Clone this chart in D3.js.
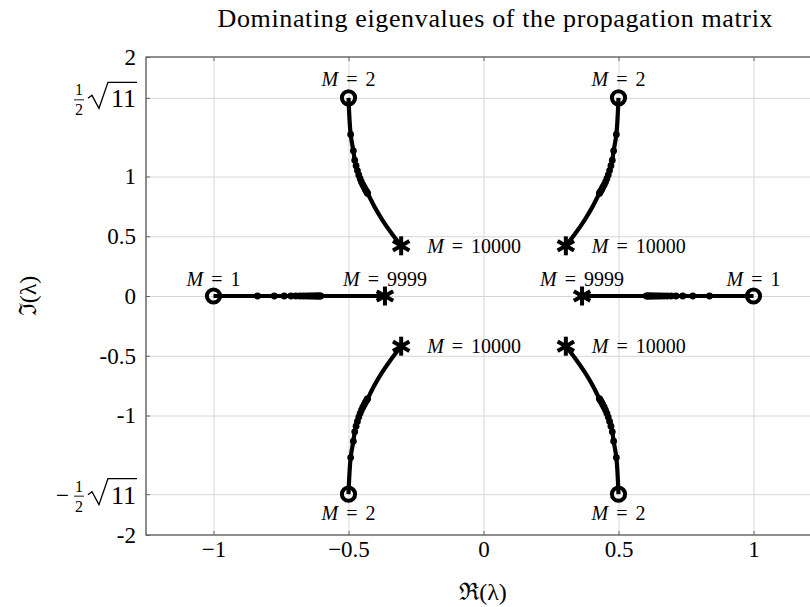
<!DOCTYPE html>
<html>
<head>
<meta charset="utf-8">
<script src="https://cdn.jsdelivr.net/npm/d3@7"></script>
<style>
  body { margin: 0; background: #fff; }
  text { font-family: "Liberation Serif", serif; fill: #000; }
</style>
</head>
<body>
<svg id="chart"></svg>
<script>
const xTicks = [-1, -0.5, 0, 0.5, 1]
const xTickLabels = ['−1', '−0.5', '0', '0.5', '1']
const yTicks = [-2, -Math.sqrt(11) / 2, -1, -0.5, 0, 0.5, 1, Math.sqrt(11) / 2, 2]
const yTickLabels = ['-2', 'sqrt-', '-1', '-0.5', '0', '0.5', '1', 'sqrt+', '2']

// complex branch, one quadrant (M = 2, 3, ...), mirrored to the other three
const complexRe = [0.5, 0.492, 0.482, 0.477, 0.472, 0.467, 0.462, 0.457, 0.452, 0.447, 0.442, 0.438, 0.434, 0.431, 0.429]
const complexIm = [1.658, 1.352, 1.215, 1.137, 1.09, 1.05, 1.013, 0.982, 0.955, 0.93, 0.91, 0.892, 0.877, 0.866, 0.858]
// unmarked part of the curve, ending at M = 10000
const complexTailRe = [0.404, 0.375, 0.342, 0.305]
const complexTailIm = [0.748, 0.638, 0.529, 0.42]
// real branch (M = 1, 2, ...), mirrored left/right
const realRe = [1, 0.837, 0.775, 0.738, 0.713, 0.695, 0.68, 0.668, 0.657, 0.648, 0.64, 0.633, 0.627, 0.621, 0.616, 0.611, 0.607, 0.603]
const realEnd = 0.365              // M = 9999
const quadrants = [[-1, 1], [1, 1], [-1, -1], [1, -1]]
const sides = [-1, 1]

const W = 810, H = 607
const pLeft = 146, pRight = 821, pTop = 57, pBottom = 535

const svg = d3.select('#chart').attr('width', W).attr('height', H)

const x = d3.scaleLinear().domain([-1.25, 1.25]).range([pLeft, pRight])
const y = d3.scaleLinear().domain([-2, 2]).range([pBottom, pTop])

// grid
const grid = svg.append('g')
grid.append('g')
  .attr('transform', `translate(0,${pBottom})`)
  .call(d3.axisBottom(x).tickValues(xTicks).tickSize(-(pBottom - pTop)).tickFormat(''))
grid.append('g')
  .attr('transform', `translate(${pLeft},0)`)
  .call(d3.axisLeft(y).tickValues(yTicks.slice(1, -1)).tickSize(-(pRight - pLeft)).tickFormat(''))
grid.selectAll('.domain').remove()
grid.selectAll('line').attr('stroke', '#d6d6d6').attr('stroke-width', 1)

// frame
svg.append('rect')
  .attr('x', pLeft).attr('y', pTop)
  .attr('width', pRight - pLeft).attr('height', pBottom - pTop)
  .attr('fill', 'none').attr('stroke', '#444').attr('stroke-width', 1.2)

const axes = svg.append('g')
axes.append('g')
  .attr('transform', `translate(0,${pBottom})`)
  .call(d3.axisBottom(x).tickValues(xTicks).tickSize(-4).tickPadding(6)
    .tickFormat((d, i) => xTickLabels[i]))
axes.append('g').attr('transform', `translate(0,${pTop})`)
  .call(d3.axisTop(x).tickValues(xTicks).tickSize(-4).tickFormat(''))
const yAx = axes.append('g')
  .attr('transform', `translate(${pLeft},0)`)
  .call(d3.axisLeft(y).tickValues(yTicks).tickSize(-4).tickPadding(10)
    .tickFormat((d, i) => yTickLabels[i].startsWith('sqrt') ? '' : yTickLabels[i]))
axes.append('g').attr('transform', `translate(${pRight},0)`)
  .call(d3.axisRight(y).tickValues(yTicks).tickSize(-4).tickFormat(''))

axes.selectAll('.domain').remove()
axes.selectAll('.tick line').attr('stroke', '#666')
axes.selectAll('.tick text').attr('font-family', '"Liberation Serif", serif').attr('font-size', 23)

// ½√11 labels
yAx.selectAll('.tick').filter((d, i) => yTickLabels[i].startsWith('sqrt')).each(function (d) {
  const g = d3.select(this)
  const t = g.append('text').attr('x', -10).attr('y', 9).attr('text-anchor', 'end')
    .attr('font-size', 26).text('11')
  const w = t.node().getComputedTextLength()
  const x0 = -10 - w - 1
  g.append('path')
    .attr('d', `M${x0 - 22},0 L${x0 - 18},-3 L${x0 - 11},10 L${x0 - 2},-16 L-9,-16`)
    .attr('fill', 'none').attr('stroke', '#000').attr('stroke-width', 1.3)
  const fx = x0 - 31
  g.append('text').attr('x', fx).attr('y', -3).attr('text-anchor', 'middle').attr('font-size', 16).text('1')
  g.append('line').attr('x1', fx - 5).attr('x2', fx + 5).attr('y1', 1.5).attr('y2', 1.5)
    .attr('stroke', '#000').attr('stroke-width', 0.9)
  g.append('text').attr('x', fx).attr('y', 17).attr('text-anchor', 'middle').attr('font-size', 16).text('2')
  if (d < 0) g.append('text').attr('x', fx - 10).attr('y', 8).attr('text-anchor', 'end').attr('font-size', 23).text('−')
})

const line = d3.line().x(d => x(d[0])).y(d => y(d[1])).curve(d3.curveCatmullRom.alpha(0.5))
const plot = svg.append('g')
const lw = 4.2

function star(px, py) {
  const g = plot.append('g').attr('transform', `translate(${px},${py})`)
  ;[90, 30, 150].forEach(a => {
    const r = 9.5, c = Math.cos(a * Math.PI / 180) * r, s = Math.sin(a * Math.PI / 180) * r
    g.append('line').attr('x1', -c).attr('y1', -s).attr('x2', c).attr('y2', s)
      .attr('stroke', '#000').attr('stroke-width', 4)
  })
}
function mLabel(px, py, anchor, value) {
  const t = plot.append('text').attr('x', px).attr('y', py).attr('text-anchor', anchor).attr('font-size', 20)
  t.append('tspan').attr('font-style', 'italic').text('M')
  t.append('tspan').attr('dx', 3).text(' =')
  t.append('tspan').attr('dx', 3).text(' ' + value)
}
function ring(px, py) {
  plot.append('circle').attr('cx', px).attr('cy', py).attr('r', 6.6)
    .attr('fill', 'none').attr('stroke', '#000').attr('stroke-width', 4)
}

quadrants.forEach(([sx, sy]) => {
  const pts = complexRe.map((r, i) => [sx * r, sy * complexIm[i]])
  const tail = complexTailRe.map((r, i) => [sx * r, sy * complexTailIm[i]])
  const end = tail[tail.length - 1]
  plot.append('path').datum(pts.concat(tail)).attr('d', line)
    .attr('fill', 'none').attr('stroke', '#000').attr('stroke-width', lw).attr('stroke-linejoin', 'round')
  plot.selectAll(null).data(pts.slice(1)).enter().append('circle')
    .attr('cx', d => x(d[0])).attr('cy', d => y(d[1])).attr('r', 3.4).attr('fill', '#000')
  ring(x(pts[0][0]), y(pts[0][1]))
  star(x(end[0]), y(end[1]))
  mLabel(x(pts[0][0]), y(pts[0][1]) + (sy > 0 ? -12 : 26), 'middle', '2')
  mLabel(x(end[0]) + 26, y(end[1]) + 7, 'start', '10000')
})

sides.forEach(sx => {
  const pts = realRe.map(r => [sx * r, 0])
  const end = [sx * realEnd, 0]
  plot.append('path').datum(pts.concat([end])).attr('d', line)
    .attr('fill', 'none').attr('stroke', '#000').attr('stroke-width', lw)
  plot.selectAll(null).data(pts.slice(1)).enter().append('circle')
    .attr('cx', d => x(d[0])).attr('cy', d => y(d[1])).attr('r', 3.4).attr('fill', '#000')
  ring(x(pts[0][0]), y(0))
  star(x(end[0]), y(0))
  mLabel(x(pts[0][0]), y(0) - 10, 'middle', '1')
  mLabel(x(end[0]), y(0) - 10, 'middle', '9999')
})

// title and axis labels
svg.append('text').attr('x', 495).attr('y', 27).attr('text-anchor', 'middle').attr('font-size', 26)
  .attr('textLength', 555).attr('lengthAdjust', 'spacing')
  .text('Dominating eigenvalues of the propagation matrix')
svg.append('text').attr('x', 483).attr('y', 600).attr('text-anchor', 'middle').attr('font-size', 24)
  .text('ℜ(λ)')
svg.append('text').attr('transform', 'translate(36,296) rotate(-90)').attr('text-anchor', 'middle')
  .attr('font-size', 24).text('ℑ(λ)')
</script>
</body>
</html>
